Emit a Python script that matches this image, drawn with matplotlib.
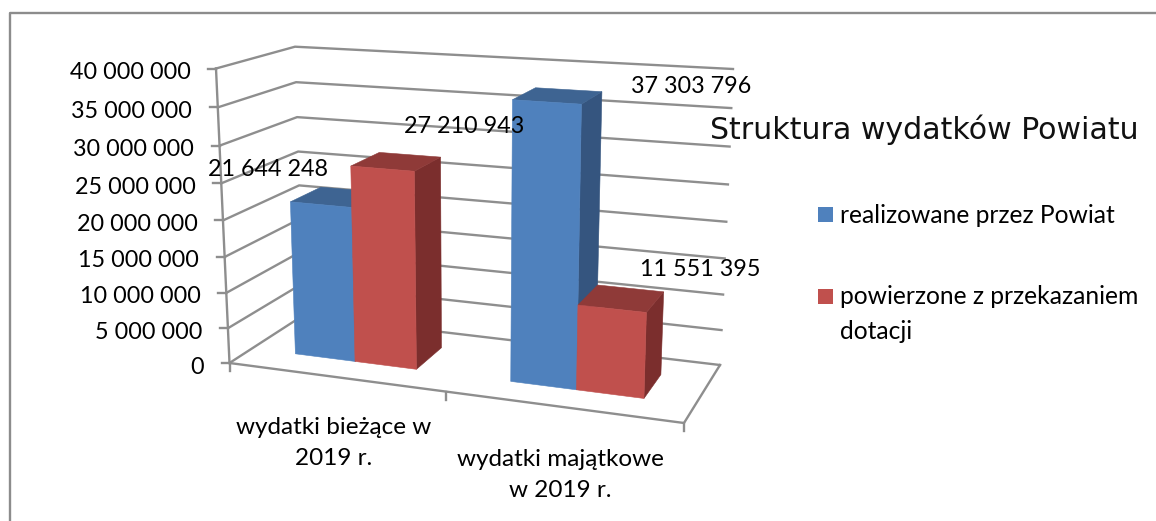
"""Struktura wydatkow Powiatu - pseudo 3D clustered columns, projected by hand onto a 2D canvas."""
import numpy as np
import matplotlib
matplotlib.use("Agg")
import matplotlib.pyplot as plt
from matplotlib.patches import Polygon, Rectangle

W, H = 1156, 521

categories = ["wydatki bieżące w\n2019 r.", "wydatki majątkowe\nw 2019 r."]
series_names = ["realizowane przez Powiat", "powierzone z przekazaniem\ndotacji"]
realizowane = [21644248, 37303796]
powierzone = [27210943, 11551395]
y_ticks = [0, 5000000, 10000000, 15000000, 20000000, 25000000, 30000000, 35000000, 40000000]

YMAX = 40000000
BAR_W, V0, V1 = 0.287, 0.31, 0.73

# corners of the plot box in image pixels: front left, front right, back right, back left
FLOOR = np.array([(229.5, 363), (684, 423), (720, 365), (303, 315.5)])
CEIL = np.array([(216, 68.5), (695, 99), (733, 69), (295, 46.7)])

BLUE = dict(front="#4F81BD", top="#3E6492", side="#35557F")
RED = dict(front="#C0504D", top="#8F3A38", side="#7B2E2D")
GREY = "#8E8E8E"

plt.rcParams["font.family"] = ["Lato", "DejaVu Sans"]
FS = 16.8

def bilin(box, u, v):
    return (1-v)*(box[0] + u*(box[1]-box[0])) + v*(box[3] + u*(box[2]-box[3]))

def proj(x, v, val):
    """category position x (0..2), depth v (0..1), value -> image pixel"""
    u = 0.452*x + 0.024*x*x
    z = val / YMAX
    t = 0.936*z + 0.064*z*z
    lo, hi = bilin(FLOOR, u, v), bilin(CEIL, u, v)
    return tuple(lo + t*(hi-lo))

fig = plt.figure(figsize=(W/100, H/100), dpi=100)
ax = fig.add_axes([0, 0, 1, 1])
ax.set_xlim(0, W); ax.set_ylim(H, 0); ax.axis("off")

# chart frame, open on the right and at the bottom
ax.plot([10, 10, W], [H, 13, 13], color="#8C8C8C", lw=1.7, zorder=1)

# walls
for val in y_ticks:
    pts = [proj(0, 0, val), proj(0, 1, val), proj(2, 1, val)]
    ax.plot(*zip(*pts), color=GREY, lw=1.7, zorder=2)
ax.plot(*zip(proj(0, 0, 0), proj(2, 0, 0), proj(2, 1, 0)), color=GREY, lw=1.7, zorder=2)
ax.plot(*zip(proj(0, 0, 0), proj(0, 0, YMAX)), color=GREY, lw=1.7, zorder=2)

# axis ticks and labels
for val in y_ticks:
    x, y = proj(0, 0, val)
    ax.plot([x-8, x], [y, y], color=GREY, lw=1.7, zorder=2)
    ax.text(x-25.5, y+4, f"{val:,}".replace(",", " "), ha="right", va="center", fontsize=FS, color="black")
for i in range(3):
    x, y = proj(i, 0, 0)
    ax.plot([x, x], [y, y+8], color=GREY, lw=1.7, zorder=2)

def bar(x0, x1, val, col):
    faces = [("side", [(x1, V0, 0), (x1, V1, 0), (x1, V1, val), (x1, V0, val)]),
             ("top", [(x0, V0, val), (x1, V0, val), (x1, V1, val), (x0, V1, val)]),
             ("front", [(x0, V0, 0), (x1, V0, 0), (x1, V0, val), (x0, V0, val)])]
    for name, pts in faces:
        ax.add_patch(Polygon([proj(*p) for p in pts], closed=True, facecolor=col[name],
                             edgecolor=col[name], lw=0.4, zorder=3))

for i in range(2):
    c = i + 0.5
    bar(c-BAR_W, c, realizowane[i], BLUE)
    bar(c, c+BAR_W, powierzone[i], RED)

# data labels
label_xy = [(268, 169.5), (691, 86.5), (464, 126.5), (700, 269.5)]
for val, (lx, ly) in zip(realizowane + powierzone, label_xy):
    ax.text(lx, ly, f"{val:,}".replace(",", " "), ha="center", va="center", fontsize=FS, color="black", zorder=5)

# category labels
for txt, (lx, ly) in zip(categories, [(334, 443), (560.5, 475)]):
    ax.text(lx, ly, txt, ha="center", va="center", fontsize=17.5, color="black", linespacing=1.55)

# legend
for name, col, ly in zip(series_names, [BLUE, RED], [207, 288.5]):
    ax.add_patch(Rectangle((818, ly), 15, 15, facecolor=col["front"], edgecolor="none"))
    ax.text(840, ly-3, name, ha="left", va="top", fontsize=17.7, color="black", linespacing=1.6)

ax.text(710, 130, "Struktura wydatków Powiatu", ha="left", va="center", fontsize=21.6,
        family="DejaVu Sans", color="#111111")

fig.savefig("out.png", dpi=100)
